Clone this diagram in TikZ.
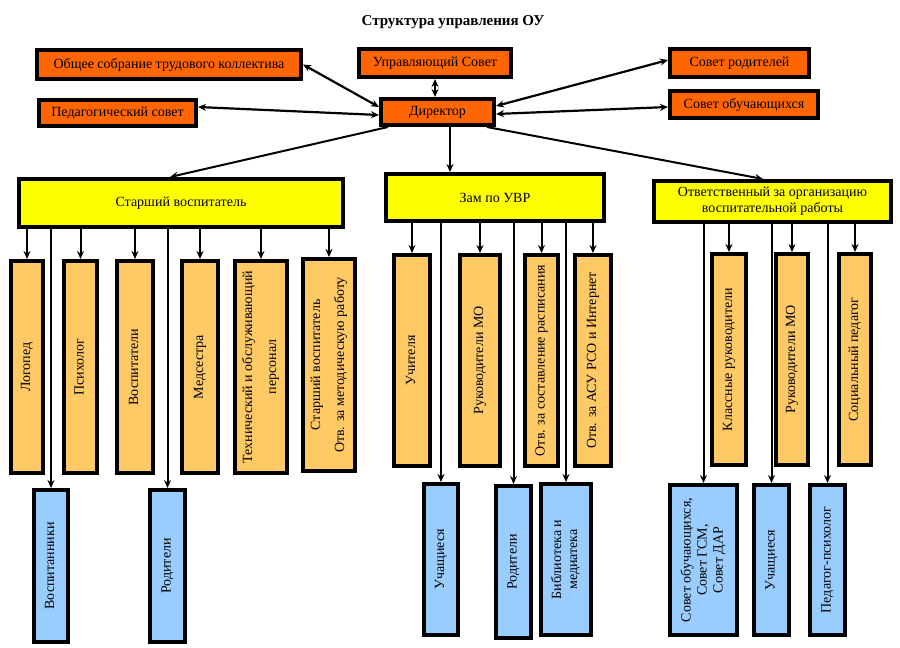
\documentclass[tikz,border=0pt]{standalone}
\usepackage{fontspec}
\setmainfont{Liberation Serif}
\usepackage{graphicx}
\usetikzlibrary{arrows.meta}

\definecolor{dirorange}{HTML}{FF6600}
\definecolor{stafforange}{HTML}{FFC966}
\definecolor{headyellow}{HTML}{FFFF00}
\definecolor{groupblue}{HTML}{99CCFF}

% vertical label inside a column box
\newcommand{\vtext}[1]{\rotatebox{90}{\begin{tabular}{@{}c@{}}#1\end{tabular}}}

\tikzset{
	boxfont/.style={font=\fontsize{14}{16}\selectfont},
	topbox/.style={draw,line width=4pt,fill=dirorange,inner sep=0pt,boxfont},
	headbox/.style={draw,line width=4pt,fill=headyellow,align=center,inner sep=0pt,boxfont},
	staffbox/.style={draw,line width=4pt,fill=stafforange,inner sep=0pt,boxfont},
	groupbox/.style={draw,line width=4pt,fill=groupblue,inner sep=0pt,boxfont},
	link/.style={line width=2pt,-{Stealth[length=8pt,width=7pt]}},
	duallink/.style={line width=2.2pt,{Stealth[length=8pt,width=7pt]}-{Stealth[length=8pt,width=7pt]}}
}

\begin{document}
\begin{tikzpicture}[x=1pt,y=-1pt]
	\useasboundingbox (0,0) rectangle (900,648);

	\node[font=\fontsize{15}{17}\selectfont\bfseries] (title) at (453,22) {Структура управления ОУ};

	% management level
	\node[topbox,minimum width=264pt,minimum height=29pt] (meeting) at (169,64.5) {Общее собрание трудового коллектива};
	\node[topbox,minimum width=157pt,minimum height=26pt] (pedcouncil) at (117.5,113) {Педагогический совет};
	\node[topbox,minimum width=152pt,minimum height=28pt] (board) at (435,63) {Управляющий Совет};
	\node[topbox,minimum width=113pt,minimum height=26pt] (director) at (437.5,112) {Директор};
	\node[topbox,minimum width=139pt,minimum height=28pt] (parents) at (739.5,63) {Совет родителей};
	\node[topbox,minimum width=148pt,minimum height=27pt] (students) at (744,104.5) {Совет обучающихся};

	\draw[duallink] (meeting.east) -- ([yshift=5pt]director.west);
	\draw[duallink] ([yshift=6pt]pedcouncil.east) -- ([yshift=-3pt]director.west);
	\draw[duallink] (board.south) -- (board.south |- director.north);
	\draw[duallink] ([yshift=6pt]director.east) -- ([yshift=3pt]parents.west);
	\draw[duallink] ([yshift=-2pt]director.east) -- ([yshift=-2.5pt]students.west);

	% deputies
	\node[headbox,minimum width=324pt,minimum height=48pt] (senior) at (181,203) {Старший воспитатель};
	\node[headbox,minimum width=218pt,minimum height=47pt] (deputy) at (495,197.5) {Зам по УВР};
	\node[headbox,minimum width=237pt,minimum height=41pt] (upbring) at (772.5,201.5) {Ответственный за организацию\\воспитательной работы};

	\draw[link] ([xshift=9pt]director.south west) -- ([xshift=-11pt]senior.north);
	\draw[link] ([xshift=12.5pt]director.south) -- ([xshift=12.5pt]director.south |- deputy.north);
	\draw[link] ([xshift=-9pt]director.south east) -- ([xshift=-9.5pt]upbring.north);

	% staff of the senior educator
	\node[staffbox,minimum width=32pt,minimum height=212pt] (speech) at (27,367) {\vtext{Логопед}};
	\node[staffbox,minimum width=33pt,minimum height=212pt] (psych) at (80.5,367) {\vtext{Психолог}};
	\node[staffbox,minimum width=36pt,minimum height=212pt] (tutors) at (135,367) {\vtext{Воспитатели}};
	\node[staffbox,minimum width=36pt,minimum height=212pt] (nurse) at (200,367) {\vtext{Медсестра}};
	\node[staffbox,minimum width=52pt,minimum height=212pt] (service) at (261,367) {\vtext{Технический и обслуживающий\\[8pt]персонал}};
	\node[staffbox,minimum width=52pt,minimum height=212pt] (method) at (329,365) {\vtext{Старший воспитатель\\[8pt]Отв. за методическую работу}};

	\node[groupbox,minimum width=34pt,minimum height=152pt] (pupils) at (51,566) {\vtext{Воспитанники}};
	\node[groupbox,minimum width=35pt,minimum height=152pt] (kinA) at (167.5,566) {\vtext{Родители}};

	\draw[link] (senior.south -| speech.north) -- (speech.north);
	\draw[link] (senior.south -| psych.north) -- (psych.north);
	\draw[link] (senior.south -| tutors.north) -- (tutors.north);
	\draw[link] (senior.south -| nurse.north) -- (nurse.north);
	\draw[link] (senior.south -| service.north) -- (service.north);
	\draw[link] (senior.south -| method.north) -- (method.north);
	\draw[link] (senior.south -| pupils.north) -- (pupils.north);
	\draw[link] (senior.south -| kinA.north) -- (kinA.north);

	% staff of the deputy
	\node[staffbox,minimum width=36pt,minimum height=211pt] (teachers) at (412,360.5) {\vtext{Учителя}};
	\node[staffbox,minimum width=40pt,minimum height=211pt] (headsA) at (480,360.5) {\vtext{Руководители МО}};
	\node[staffbox,minimum width=33pt,minimum height=211pt] (timetable) at (541.5,360.5) {\vtext{Отв. за составление расписания}};
	\node[staffbox,minimum width=36pt,minimum height=211pt] (asu) at (593,360.5) {\vtext{Отв. за АСУ РСО и Интернет}};

	\node[groupbox,minimum width=34pt,minimum height=151pt] (learnersA) at (441,559.5) {\vtext{Учащиеся}};
	\node[groupbox,minimum width=35pt,minimum height=152pt] (kinB) at (513.5,562) {\vtext{Родители}};
	\node[groupbox,minimum width=50pt,minimum height=151pt] (library) at (566,559.5) {\vtext{Библиотека и\\медиатека}};

	\draw[link] (deputy.south -| teachers.north) -- (teachers.north);
	\draw[link] (deputy.south -| headsA.north) -- (headsA.north);
	\draw[link] (deputy.south -| timetable.north) -- (timetable.north);
	\draw[link] (deputy.south -| asu.north) -- (asu.north);
	\draw[link] (deputy.south -| learnersA.north) -- (learnersA.north);
	\draw[link] (deputy.south -| kinB.north) -- (kinB.north);
	\draw[link] (deputy.south -| library.north) -- (library.north);

	% staff of the upbringing officer
	\node[staffbox,minimum width=34pt,minimum height=211pt] (classheads) at (729,359.5) {\vtext{Классные руководители}};
	\node[staffbox,minimum width=32pt,minimum height=211pt] (headsB) at (792,359.5) {\vtext{Руководители МО}};
	\node[staffbox,minimum width=32pt,minimum height=211pt] (social) at (855,359.5) {\vtext{Социальный педагог}};

	\node[groupbox,minimum width=67pt,minimum height=150pt] (councils) at (703.5,560) {\vtext{Совет обучающихся,\\Совет ГСМ,\\Совет ДАР}};
	\node[groupbox,minimum width=35pt,minimum height=150pt] (learnersB) at (771.5,560) {\vtext{Учащиеся}};
	\node[groupbox,minimum width=35pt,minimum height=150pt] (psychped) at (827.5,560) {\vtext{Педагог-психолог}};

	\draw[link] (upbring.south -| classheads.north) -- (classheads.north);
	\draw[link] (upbring.south -| headsB.north) -- (headsB.north);
	\draw[link] (upbring.south -| social.north) -- (social.north);
	\draw[link] (upbring.south -| councils.north) -- (councils.north);
	\draw[link] (upbring.south -| learnersB.north) -- (learnersB.north);
	\draw[link] (upbring.south -| psychped.north) -- (psychped.north);

\end{tikzpicture}
\end{document}
